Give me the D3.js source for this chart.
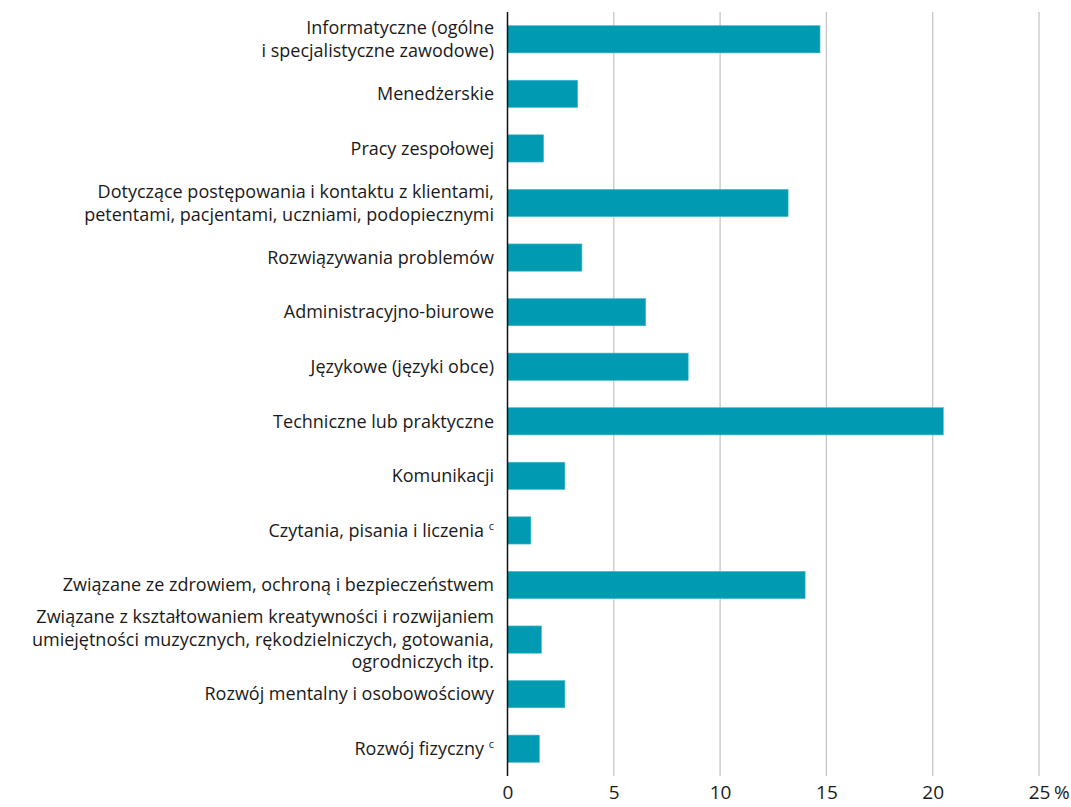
<!DOCTYPE html>
<html>
<head>
<meta charset="utf-8">
<script src="https://cdn.jsdelivr.net/npm/d3@7"></script>
<style>
  html, body { margin: 0; padding: 0; background: #fff; }
  svg text { font-family: "Open Sans", "Noto Sans", sans-serif; fill: #1a1a1a; }
</style>
</head>
<body>
<svg id="chart" width="1071" height="807"></svg>
<script>
// Category labels (each entry = lines of the label), top to bottom
const categories = [
  ["Informatyczne (ogólne", "i specjalistyczne zawodowe)"],
  ["Menedżerskie"],
  ["Pracy zespołowej"],
  ["Dotyczące postępowania i kontaktu z klientami,", "petentami, pacjentami, uczniami, podopiecznymi"],
  ["Rozwiązywania problemów"],
  ["Administracyjno-biurowe"],
  ["Językowe (języki obce)"],
  ["Techniczne lub praktyczne"],
  ["Komunikacji"],
  ["Czytania, pisania i liczenia"],
  ["Związane ze zdrowiem, ochroną i bezpieczeństwem"],
  ["Związane z kształtowaniem kreatywności i rozwijaniem", "umiejętności muzycznych, rękodzielniczych, gotowania,", "ogrodniczych itp."],
  ["Rozwój mentalny i osobowościowy"],
  ["Rozwój fizyczny"]
];
// footnote marks appended to labels
const footnotes = ["", "", "", "", "", "", "", "", "", "c", "", "", "", "c"];
// Percent values
const values = [14.7, 3.3, 1.7, 13.2, 3.5, 6.5, 8.5, 20.5, 2.7, 1.1, 14.0, 1.6, 2.7, 1.5];
// x axis ticks
const tickValues = [0, 5, 10, 15, 20, 25];
const tickLabels = ["0", "5", "10", "15", "20", "25"];
const unitLabel = "%";

const svg = d3.select("#chart");
const x0 = 507.5, x1 = 1039, yTop = 12, yBot = 776;

const x = d3.scaleLinear().domain([0, 25]).range([x0, x1]);
const y = d3.scaleBand().domain(d3.range(categories.length)).range([yTop, yBot]).paddingInner(0.5).paddingOuter(0.25);

// gridlines
svg.append("g").selectAll("line")
  .data(tickValues.filter(d => d > 0))
  .join("line")
  .attr("x1", d => x(d)).attr("x2", d => x(d))
  .attr("y1", yTop).attr("y2", yBot)
  .attr("stroke", "#c2c2c2").attr("stroke-width", 1.2);

// tick labels via axis
const axis = d3.axisBottom(x).tickValues(tickValues).tickFormat((d, i) => tickLabels[i]).tickSize(0).tickPadding(0);
const ag = svg.append("g").attr("transform", `translate(0, ${yBot})`).call(axis);
ag.select(".domain").remove();
ag.selectAll("text")
  .attr("y", 16).attr("dy", "0.35em")
  .style("font-family", '"Open Sans", "Noto Sans", sans-serif')
  .style("font-size", "19px").attr("fill", "#1a1a1a");
// unit after last tick
svg.append("text")
  .attr("x", x(25) + 15).attr("y", yBot + 16).attr("dy", "0.35em")
  .style("font-size", "19px")
  .text(unitLabel);

// bars
svg.append("g").selectAll("rect")
  .data(values)
  .join("rect")
  .attr("x", x(0))
  .attr("y", (d, i) => y(i))
  .attr("width", d => x(d) - x(0))
  .attr("height", y.bandwidth())
  .attr("fill", "#009bb3")
  .attr("stroke", "#4fbccc").attr("stroke-width", 0.6);

// vertical axis line
svg.append("line")
  .attr("x1", x0).attr("x2", x0).attr("y1", yTop).attr("y2", yBot)
  .attr("stroke", "#111").attr("stroke-width", 1.5);

// category labels
const lineH = 22.5;
const lab = svg.append("g").selectAll("text")
  .data(categories)
  .join("text")
  .attr("text-anchor", "end")
  .style("font-size", "18px");
lab.each(function(lines, i) {
  const t = d3.select(this);
  const cy = y(i) + y.bandwidth() / 2;
  lines.forEach((ln, j) => {
    const ts = t.append("tspan")
      .attr("x", 494)
      .attr("y", cy + (j - (lines.length - 1) / 2) * lineH)
      .attr("dy", "0.35em")
      .text(ln);
    if (j === lines.length - 1 && footnotes[i]) {
      ts.text(ln + " ");
      t.append("tspan").attr("dy", "-0.6em").style("font-size", "11px").text(footnotes[i]);
    }
  });
});
</script>
</body>
</html>
